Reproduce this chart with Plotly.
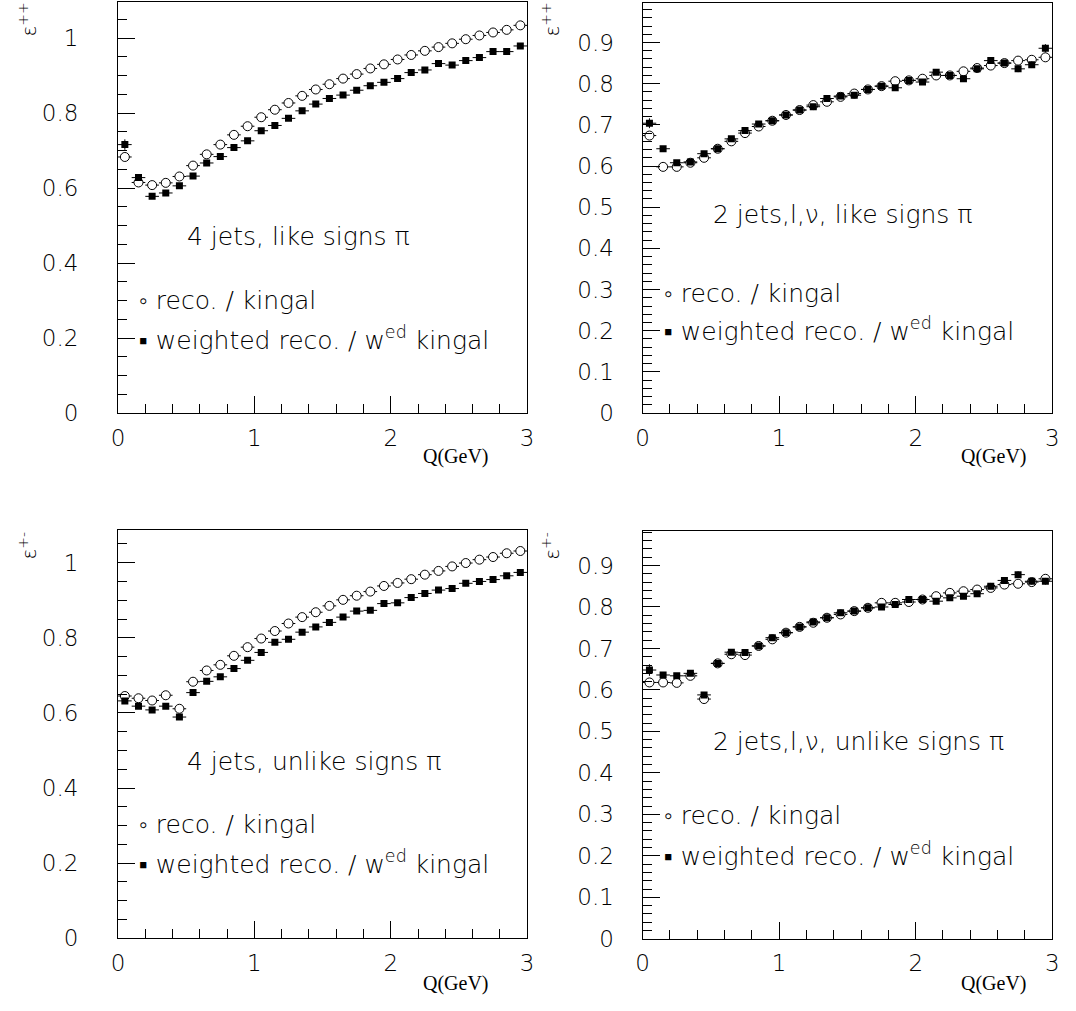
import plotly.graph_objects as go

# ---------------- data ----------------
q_centers = [0.05, 0.15, 0.25, 0.35, 0.45, 0.55, 0.65, 0.75, 0.85, 0.95,
             1.05, 1.15, 1.25, 1.35, 1.45, 1.55, 1.65, 1.75, 1.85, 1.95,
             2.05, 2.15, 2.25, 2.35, 2.45, 2.55, 2.65, 2.75, 2.85, 2.95]
bin_half_width = [0.05] * 30

# 4 jets, like signs
tl_reco = [0.683, 0.615, 0.608, 0.614, 0.631, 0.660, 0.690, 0.716, 0.742, 0.765,
           0.789, 0.809, 0.827, 0.846, 0.863, 0.877, 0.892, 0.904, 0.919, 0.930,
           0.943, 0.955, 0.966, 0.976, 0.986, 0.997, 1.007, 1.015, 1.022, 1.034]
tl_wgt = [0.716, 0.628, 0.578, 0.587, 0.606, 0.632, 0.667, 0.684, 0.708, 0.726,
          0.753, 0.767, 0.786, 0.806, 0.824, 0.839, 0.848, 0.861, 0.873, 0.882,
          0.892, 0.908, 0.915, 0.932, 0.928, 0.940, 0.948, 0.964, 0.964, 0.979]
tl_reco_err = [0.010, 0.004, 0.003, 0.003, 0.003, 0.003, 0.003, 0.003, 0.003, 0.003,
               0.003, 0.003, 0.003, 0.003, 0.003, 0.003, 0.003, 0.003, 0.003, 0.003,
               0.003, 0.003, 0.003, 0.003, 0.003, 0.003, 0.003, 0.003, 0.003, 0.003]
tl_wgt_err = [0.014, 0.006, 0.004, 0.004, 0.004, 0.004, 0.004, 0.004, 0.004, 0.004,
              0.004, 0.004, 0.004, 0.004, 0.004, 0.004, 0.004, 0.004, 0.004, 0.004,
              0.004, 0.004, 0.004, 0.004, 0.004, 0.004, 0.004, 0.004, 0.004, 0.004]

# 2 jets, l, nu, like signs
tr_reco = [0.674, 0.598, 0.598, 0.608, 0.620, 0.642, 0.660, 0.680, 0.696, 0.710,
           0.724, 0.736, 0.748, 0.756, 0.768, 0.776, 0.786, 0.794, 0.806, 0.808,
           0.812, 0.820, 0.820, 0.830, 0.838, 0.844, 0.850, 0.856, 0.858, 0.864]
tr_wgt = [0.704, 0.642, 0.608, 0.610, 0.630, 0.642, 0.666, 0.686, 0.702, 0.710,
          0.724, 0.736, 0.744, 0.764, 0.770, 0.772, 0.786, 0.794, 0.790, 0.808,
          0.804, 0.828, 0.820, 0.812, 0.836, 0.856, 0.850, 0.836, 0.846, 0.886]
tr_reco_err = [0.010, 0.005, 0.005, 0.005, 0.005, 0.005, 0.005, 0.005, 0.005, 0.005,
               0.005, 0.005, 0.005, 0.005, 0.005, 0.005, 0.005, 0.005, 0.005, 0.005,
               0.005, 0.005, 0.005, 0.005, 0.005, 0.006, 0.006, 0.006, 0.006, 0.007]
tr_wgt_err = [0.012, 0.006, 0.006, 0.006, 0.006, 0.006, 0.006, 0.006, 0.006, 0.006,
              0.006, 0.006, 0.006, 0.006, 0.006, 0.006, 0.006, 0.006, 0.006, 0.006,
              0.006, 0.006, 0.006, 0.006, 0.006, 0.008, 0.007, 0.008, 0.008, 0.010]

# 4 jets, unlike signs
bl_reco = [0.645, 0.639, 0.633, 0.647, 0.611, 0.683, 0.713, 0.728, 0.752, 0.775,
           0.798, 0.818, 0.838, 0.855, 0.868, 0.885, 0.901, 0.912, 0.923, 0.938,
           0.946, 0.956, 0.968, 0.978, 0.990, 0.999, 1.008, 1.015, 1.025, 1.031]
bl_wgt = [0.632, 0.618, 0.608, 0.618, 0.589, 0.654, 0.684, 0.696, 0.718, 0.740,
          0.761, 0.788, 0.796, 0.815, 0.829, 0.841, 0.855, 0.871, 0.873, 0.891,
          0.893, 0.907, 0.918, 0.927, 0.931, 0.945, 0.950, 0.955, 0.965, 0.974]
bl_reco_err = [0.004, 0.003, 0.003, 0.003, 0.003, 0.003, 0.003, 0.003, 0.003, 0.003,
               0.003, 0.003, 0.003, 0.003, 0.003, 0.003, 0.003, 0.003, 0.003, 0.003,
               0.003, 0.003, 0.003, 0.003, 0.003, 0.003, 0.003, 0.003, 0.003, 0.003]
bl_wgt_err = [0.006, 0.004, 0.004, 0.004, 0.004, 0.004, 0.004, 0.004, 0.004, 0.004,
              0.004, 0.004, 0.004, 0.004, 0.004, 0.004, 0.004, 0.004, 0.004, 0.004,
              0.004, 0.004, 0.004, 0.004, 0.004, 0.004, 0.004, 0.004, 0.004, 0.004]

# 2 jets, l, nu, unlike signs
br_reco = [0.618, 0.618, 0.617, 0.634, 0.578, 0.664, 0.686, 0.684, 0.706, 0.722,
           0.738, 0.752, 0.762, 0.774, 0.782, 0.790, 0.798, 0.810, 0.810, 0.812,
           0.818, 0.826, 0.834, 0.838, 0.842, 0.846, 0.854, 0.856, 0.860, 0.868]
br_wgt = [0.648, 0.636, 0.634, 0.640, 0.588, 0.664, 0.691, 0.690, 0.706, 0.726,
          0.738, 0.752, 0.764, 0.774, 0.786, 0.790, 0.798, 0.800, 0.806, 0.818,
          0.818, 0.814, 0.822, 0.826, 0.832, 0.850, 0.864, 0.878, 0.862, 0.862]
br_reco_err = [0.010, 0.005, 0.005, 0.005, 0.006, 0.005, 0.005, 0.005, 0.005, 0.005,
               0.005, 0.005, 0.005, 0.005, 0.005, 0.005, 0.005, 0.005, 0.005, 0.005,
               0.005, 0.005, 0.005, 0.005, 0.005, 0.006, 0.006, 0.006, 0.006, 0.007]
br_wgt_err = [0.014, 0.006, 0.006, 0.006, 0.007, 0.006, 0.006, 0.006, 0.006, 0.006,
              0.006, 0.006, 0.006, 0.006, 0.006, 0.006, 0.006, 0.006, 0.006, 0.006,
              0.006, 0.006, 0.006, 0.006, 0.006, 0.007, 0.008, 0.008, 0.008, 0.008]

panel_titles = ["4 jets, like signs π", "2 jets,l,ν, like signs π",
                "4 jets, unlike signs π", "2 jets,l,ν, unlike signs π"]
y_labels = ["ε<sup>++</sup>", "ε<sup>++</sup>", "ε<sup>+-</sup>", "ε<sup>+-</sup>"]
legend_reco = "◦ reco. / kingal"
legend_wgt = "▪ weighted reco. / w<sup>ed</sup> kingal"
x_title = "Q(GeV)"

# ---------------- layout geometry (page pixels) ----------------
W, H = 1076, 1011
def px(x):
    return x / W
def py(y):
    return 1 - y / H

FONT = "DejaVu Sans"
TICKF = dict(family=FONT, size=23, color="black", weight=200)
TXT = dict(family=FONT, size=25, color="black", weight=200)

panels = [
    dict(frame=(112.5, 527, 2.5, 418.5), yr=[0, 1.095], dt=0.2, mdt=0.05, so=34,
         reco=tl_reco, wgt=tl_wgt, re=tl_reco_err, we=tl_wgt_err,
         title=(180, 240), leg=(132, 304, 343), ylab=(21, 20), xt=(490, 462)),
    dict(frame=(644, 1059, 3, 418.5), yr=[0, 0.996], dt=0.1, mdt=0.02, so=23,
         reco=tr_reco, wgt=tr_wgt, re=tr_reco_err, we=tr_wgt_err,
         title=(713, 217), leg=(664, 297, 334), ylab=(551, 20), xt=(1035, 462)),
    dict(frame=(112.5, 527, 536.5, 950.5), yr=[0, 1.088], dt=0.2, mdt=0.05, so=34,
         reco=bl_reco, wgt=bl_wgt, re=bl_reco_err, we=bl_wgt_err,
         title=(180, 771), leg=(132, 835, 874), ylab=(21, 553), xt=(490, 996)),
    dict(frame=(644, 1059, 538, 951), yr=[0, 0.983], dt=0.1, mdt=0.02, so=23,
         reco=br_reco, wgt=br_wgt, re=br_reco_err, we=br_wgt_err,
         title=(713, 751), leg=(664, 826, 866), ylab=(551, 553), xt=(1035, 996)),
]

fig = go.Figure()
annotations = []
layout_axes = {}

for i, p in enumerate(panels):
    n = i + 1
    xa = "x" if n == 1 else f"x{n}"
    ya = "y" if n == 1 else f"y{n}"
    xkey = "xaxis" if n == 1 else f"xaxis{n}"
    ykey = "yaxis" if n == 1 else f"yaxis{n}"
    x0, x1, yt, yb = p["frame"]

    common = dict(showline=True, linecolor="black", linewidth=1.2, mirror=True,
                  showgrid=False, zeroline=False, ticks="inside", tickcolor="black",
                  tickwidth=1, ticklen=17, tickfont=TICKF)
    layout_axes[xkey] = dict(common, domain=[px(x0), px(x1)], anchor=ya,
                             range=[0, 3], tick0=0, dtick=1,
                             minor=dict(ticks="inside", dtick=0.2, ticklen=9,
                                        tickcolor="black", tickwidth=1, showgrid=False),
                             ticklabelstandoff=4)
    layout_axes[ykey] = dict(common, domain=[py(yb), py(yt)], anchor=xa,
                             range=p["yr"], tick0=0, dtick=p["dt"],
                             minor=dict(ticks="inside", dtick=p["mdt"], ticklen=9,
                                        tickcolor="black", tickwidth=1, showgrid=False),
                             ticklabelstandoff=p["so"])

    fig.add_trace(go.Scatter(
        x=q_centers, y=p["reco"], mode="markers", xaxis=xa, yaxis=ya,
        marker=dict(symbol="circle", size=9, color="white",
                    line=dict(color="black", width=1)),
        error_x=dict(type="data", array=bin_half_width, color="black", thickness=1, width=0),
        error_y=dict(type="data", array=p["re"], color="black", thickness=1, width=0),
        showlegend=False))
    fig.add_trace(go.Scatter(
        x=q_centers, y=p["wgt"], mode="markers", xaxis=xa, yaxis=ya,
        marker=dict(symbol="square", size=7, color="black",
                    line=dict(color="black", width=0)),
        error_x=dict(type="data", array=bin_half_width, color="black", thickness=1, width=0),
        error_y=dict(type="data", array=p["we"], color="black", thickness=1, width=0),
        showlegend=False))

    tx, ty = p["title"]
    annotations.append(dict(text=panel_titles[i], x=px(tx), y=py(ty), xref="paper", yref="paper",
                            xanchor="left", yanchor="middle", showarrow=False, font=TXT))
    lx, ly1, ly2 = p["leg"]
    annotations.append(dict(text=legend_reco, x=px(lx), y=py(ly1), xref="paper", yref="paper",
                            xanchor="left", yanchor="middle", showarrow=False, font=TXT))
    annotations.append(dict(text=legend_wgt, x=px(lx), y=py(ly2), xref="paper", yref="paper",
                            xanchor="left", yanchor="middle", showarrow=False, font=TXT))
    yx, yy = p["ylab"]
    annotations.append(dict(text=y_labels[i], x=px(yx), y=py(yy), xref="paper", yref="paper",
                            xanchor="center", yanchor="middle", textangle=-90, showarrow=False,
                            font=dict(family=FONT, size=20, color="black", weight=200)))
    qx, qy = p["xt"]
    annotations.append(dict(text=x_title, x=px(qx), y=py(qy), xref="paper", yref="paper",
                            xanchor="right", yanchor="middle", showarrow=False,
                            font=dict(family="Liberation Serif", size=20, color="black")))

fig.update_layout(
    width=W, height=H, margin=dict(l=0, r=0, t=0, b=0),
    paper_bgcolor="white", plot_bgcolor="white",
    annotations=annotations, **layout_axes)

fig.write_html("out.html", config={"displayModeBar": False},
               post_script="document.body.style.margin='0';")
